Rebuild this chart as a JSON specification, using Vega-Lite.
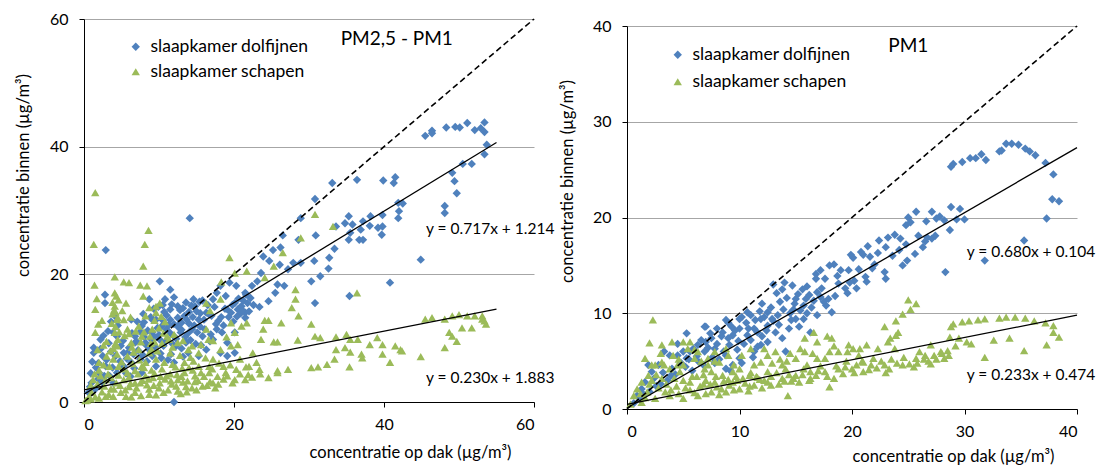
{
"$schema": "https://vega.github.io/schema/vega-lite/v6.json",
"padding": {"left": 15, "top": 11, "right": 0, "bottom": 0},
"spacing": 93,
"bounds": "flush",
"config": {
 "font": "Lato",
 "view": {"stroke": null},
 "axis": {"domainColor": "black", "tickColor": "black", "labelColor": "black", "labelFontSize": 16, "labelFont": "Lato", "titleFont": "Lato", "titleFontSize": 16.5, "titleFontWeight": "normal", "titleColor": "black", "labelPadding": 11, "tickSize": 5},
 "axisX": {"grid": false, "labelPadding": 9},
 "axisY": {"gridColor": "#a6a6a6"},
 "legend": {"labelFontSize": 17.5, "labelFont": "Lato", "labelColor": "black", "padding": 0, "symbolSize": 70, "symbolStrokeWidth": 0}
},
"resolve": {"scale": {"color": "independent", "shape": "independent"}, "legend": {"color": "independent", "shape": "independent"}},
"datasets": {
 "links": [
  {"serie":"slaapkamer dolfijnen","x":45.5,"y":41.7},{"serie":"slaapkamer dolfijnen","x":46.4,"y":42.5},{"serie":"slaapkamer dolfijnen","x":46.4,"y":42.1},{"serie":"slaapkamer dolfijnen","x":48.3,"y":43.0},{"serie":"slaapkamer dolfijnen","x":49.5,"y":43.1},{"serie":"slaapkamer dolfijnen","x":50.1,"y":43.0},{"serie":"slaapkamer dolfijnen","x":51.1,"y":43.7},{"serie":"slaapkamer dolfijnen","x":52.1,"y":42.6},{"serie":"slaapkamer dolfijnen","x":52.9,"y":42.9},{"serie":"slaapkamer dolfijnen","x":53.4,"y":43.8},{"serie":"slaapkamer dolfijnen","x":53.4,"y":42.3},{"serie":"slaapkamer dolfijnen","x":53.7,"y":40.3},{"serie":"slaapkamer dolfijnen","x":53.4,"y":38.8},{"serie":"slaapkamer dolfijnen","x":50.5,"y":37.3},{"serie":"slaapkamer dolfijnen","x":51.7,"y":37.3},{"serie":"slaapkamer dolfijnen","x":49.1,"y":35.9},{"serie":"slaapkamer dolfijnen","x":49.4,"y":34.6},{"serie":"slaapkamer dolfijnen","x":49.7,"y":32.7},{"serie":"slaapkamer dolfijnen","x":48.1,"y":30.7},{"serie":"slaapkamer dolfijnen","x":48.1,"y":29.6},{"serie":"slaapkamer dolfijnen","x":44.9,"y":22.3},{"serie":"slaapkamer dolfijnen","x":40.8,"y":18.7},{"serie":"slaapkamer dolfijnen","x":39.9,"y":34.7},{"serie":"slaapkamer dolfijnen","x":41.5,"y":35.2},{"serie":"slaapkamer dolfijnen","x":41.3,"y":34.3},{"serie":"slaapkamer dolfijnen","x":36.4,"y":34.8},{"serie":"slaapkamer dolfijnen","x":41.9,"y":31.2},{"serie":"slaapkamer dolfijnen","x":42.5,"y":31.1},{"serie":"slaapkamer dolfijnen","x":41.9,"y":28.8},{"serie":"slaapkamer dolfijnen","x":42.0,"y":29.9},{"serie":"slaapkamer dolfijnen","x":39.8,"y":29.3},{"serie":"slaapkamer dolfijnen","x":39.8,"y":27.5},{"serie":"slaapkamer dolfijnen","x":39.2,"y":27.3},{"serie":"slaapkamer dolfijnen","x":39.7,"y":26.2},{"serie":"slaapkamer dolfijnen","x":38.2,"y":29.1},{"serie":"slaapkamer dolfijnen","x":38.1,"y":27.6},{"serie":"slaapkamer dolfijnen","x":37.2,"y":28.3},{"serie":"slaapkamer dolfijnen","x":36.9,"y":27.0},{"serie":"slaapkamer dolfijnen","x":36.7,"y":25.4},{"serie":"slaapkamer dolfijnen","x":37.2,"y":25.4},{"serie":"slaapkamer dolfijnen","x":35.3,"y":29.1},{"serie":"slaapkamer dolfijnen","x":34.8,"y":28.0},{"serie":"slaapkamer dolfijnen","x":35.8,"y":27.8},{"serie":"slaapkamer dolfijnen","x":35.5,"y":26.5},{"serie":"slaapkamer dolfijnen","x":35.3,"y":25.4},{"serie":"slaapkamer dolfijnen","x":33.6,"y":27.5},{"serie":"slaapkamer dolfijnen","x":33.4,"y":24.0},{"serie":"slaapkamer dolfijnen","x":32.7,"y":22.6},{"serie":"slaapkamer dolfijnen","x":33.1,"y":34.3},{"serie":"slaapkamer dolfijnen","x":30.8,"y":31.8},{"serie":"slaapkamer dolfijnen","x":30.9,"y":26.1},{"serie":"slaapkamer dolfijnen","x":30.7,"y":22.1},{"serie":"slaapkamer dolfijnen","x":30.3,"y":18.9},{"serie":"slaapkamer dolfijnen","x":31.5,"y":19.7},{"serie":"slaapkamer dolfijnen","x":32.6,"y":20.9},{"serie":"slaapkamer dolfijnen","x":30.8,"y":15.5},{"serie":"slaapkamer dolfijnen","x":35.4,"y":16.6},{"serie":"slaapkamer dolfijnen","x":28.9,"y":28.8},{"serie":"slaapkamer dolfijnen","x":28.6,"y":25.4},{"serie":"slaapkamer dolfijnen","x":27.9,"y":21.8},{"serie":"slaapkamer dolfijnen","x":28.9,"y":21.8},{"serie":"slaapkamer dolfijnen","x":27.2,"y":20.8},{"serie":"slaapkamer dolfijnen","x":26.5,"y":26.1},{"serie":"slaapkamer dolfijnen","x":26.2,"y":24.2},{"serie":"slaapkamer dolfijnen","x":26.1,"y":21.5},{"serie":"slaapkamer dolfijnen","x":25.8,"y":18.4},{"serie":"slaapkamer dolfijnen","x":26.7,"y":18.2},{"serie":"slaapkamer dolfijnen","x":25.5,"y":17.1},{"serie":"slaapkamer dolfijnen","x":25.2,"y":23.8},{"serie":"slaapkamer dolfijnen","x":24.7,"y":22.1},{"serie":"slaapkamer dolfijnen","x":23.9,"y":22.8},{"serie":"slaapkamer dolfijnen","x":23.6,"y":20.2},{"serie":"slaapkamer dolfijnen","x":23.1,"y":18.9},{"serie":"slaapkamer dolfijnen","x":24.6,"y":15.8},{"serie":"slaapkamer dolfijnen","x":23.4,"y":14.9},{"serie":"slaapkamer dolfijnen","x":22.2,"y":16.3},{"serie":"slaapkamer dolfijnen","x":22.4,"y":18.2},{"serie":"slaapkamer dolfijnen","x":21.5,"y":17.1},{"serie":"slaapkamer dolfijnen","x":21.0,"y":15.0},{"serie":"slaapkamer dolfijnen","x":21.5,"y":14.0},{"serie":"slaapkamer dolfijnen","x":20.5,"y":14.5},{"serie":"slaapkamer dolfijnen","x":20.1,"y":15.5},{"serie":"slaapkamer dolfijnen","x":19.6,"y":14.0},{"serie":"slaapkamer dolfijnen","x":19.1,"y":14.5},{"serie":"slaapkamer dolfijnen","x":20.3,"y":18.2},{"serie":"slaapkamer dolfijnen","x":19.4,"y":18.7},{"serie":"slaapkamer dolfijnen","x":14.1,"y":28.8},{"serie":"slaapkamer dolfijnen","x":2.9,"y":23.8},{"serie":"slaapkamer dolfijnen","x":10.1,"y":18.9},{"serie":"slaapkamer dolfijnen","x":11.5,"y":17.6},{"serie":"slaapkamer dolfijnen","x":2.8,"y":16.8},{"serie":"slaapkamer dolfijnen","x":2.8,"y":15.5},{"serie":"slaapkamer dolfijnen","x":3.2,"y":11.1},{"serie":"slaapkamer dolfijnen","x":1.3,"y":8.5},{"serie":"slaapkamer dolfijnen","x":1.3,"y":7.7},{"serie":"slaapkamer dolfijnen","x":2.5,"y":7.2},{"serie":"slaapkamer dolfijnen","x":12.0,"y":0.0},
  {"serie":"slaapkamer dolfijnen","x":3.9,"y":10.9},{"serie":"slaapkamer dolfijnen","x":4.4,"y":10.3},{"serie":"slaapkamer dolfijnen","x":4.1,"y":13.5},{"serie":"slaapkamer dolfijnen","x":4.9,"y":8.8},{"serie":"slaapkamer dolfijnen","x":5.8,"y":7.7},{"serie":"slaapkamer dolfijnen","x":6.8,"y":10.3},{"serie":"slaapkamer dolfijnen","x":7.7,"y":11.9},{"serie":"slaapkamer dolfijnen","x":8.2,"y":9.3},{"serie":"slaapkamer dolfijnen","x":8.7,"y":8.2},{"serie":"slaapkamer dolfijnen","x":9.1,"y":10.9},{"serie":"slaapkamer dolfijnen","x":9.6,"y":12.9},{"serie":"slaapkamer dolfijnen","x":10.1,"y":9.8},{"serie":"slaapkamer dolfijnen","x":10.6,"y":8.8},{"serie":"slaapkamer dolfijnen","x":11.0,"y":11.4},{"serie":"slaapkamer dolfijnen","x":11.5,"y":12.9},{"serie":"slaapkamer dolfijnen","x":12.0,"y":10.3},{"serie":"slaapkamer dolfijnen","x":12.5,"y":11.9},{"serie":"slaapkamer dolfijnen","x":12.9,"y":10.9},{"serie":"slaapkamer dolfijnen","x":13.4,"y":13.5},{"serie":"slaapkamer dolfijnen","x":13.6,"y":9.3},{"serie":"slaapkamer dolfijnen","x":14.4,"y":11.4},{"serie":"slaapkamer dolfijnen","x":14.8,"y":15.0},{"serie":"slaapkamer dolfijnen","x":15.3,"y":12.9},{"serie":"slaapkamer dolfijnen","x":14.6,"y":16.1},{"serie":"slaapkamer dolfijnen","x":15.8,"y":10.3},{"serie":"slaapkamer dolfijnen","x":16.3,"y":8.2},{"serie":"slaapkamer dolfijnen","x":17.2,"y":9.8},{"serie":"slaapkamer dolfijnen","x":17.7,"y":11.4},{"serie":"slaapkamer dolfijnen","x":18.2,"y":7.7},{"serie":"slaapkamer dolfijnen","x":18.4,"y":10.9},{"serie":"slaapkamer dolfijnen","x":19.1,"y":9.3},{"serie":"slaapkamer dolfijnen","x":20.1,"y":10.9},{"serie":"slaapkamer dolfijnen","x":20.1,"y":7.7},{"serie":"slaapkamer dolfijnen","x":16.3,"y":14.0},{"serie":"slaapkamer dolfijnen","x":17.2,"y":16.1},{"serie":"slaapkamer dolfijnen","x":17.7,"y":17.1},{"serie":"slaapkamer dolfijnen","x":18.2,"y":18.2},{"serie":"slaapkamer dolfijnen","x":12.5,"y":15.0},{"serie":"slaapkamer dolfijnen","x":11.5,"y":14.5},{"serie":"slaapkamer dolfijnen","x":10.8,"y":16.1},{"serie":"slaapkamer dolfijnen","x":9.1,"y":7.2},{"serie":"slaapkamer dolfijnen","x":7.5,"y":6.7},{"serie":"slaapkamer dolfijnen","x":6.3,"y":6.2},{"serie":"slaapkamer dolfijnen","x":5.3,"y":5.6},{"serie":"slaapkamer dolfijnen","x":2.9,"y":5.6},{"serie":"slaapkamer dolfijnen","x":2.0,"y":4.6},{"serie":"slaapkamer dolfijnen","x":1.0,"y":3.0},{"serie":"slaapkamer dolfijnen","x":0.6,"y":1.5},{"serie":"slaapkamer dolfijnen","x":1.5,"y":2.0},{"serie":"slaapkamer dolfijnen","x":2.5,"y":3.0},{"serie":"slaapkamer dolfijnen","x":3.4,"y":4.1},{"serie":"slaapkamer dolfijnen","x":4.4,"y":4.6},{"serie":"slaapkamer dolfijnen","x":15.3,"y":7.2},{"serie":"slaapkamer dolfijnen","x":19.1,"y":7.2},{"serie":"slaapkamer dolfijnen","x":22.0,"y":14.2},{"serie":"slaapkamer dolfijnen","x":21.5,"y":13.2},{"serie":"slaapkamer dolfijnen","x":8.7,"y":16.1},{"serie":"slaapkamer dolfijnen","x":9.1,"y":12.9},{"serie":"slaapkamer dolfijnen","x":6.3,"y":12.9},{"serie":"slaapkamer dolfijnen","x":6.8,"y":9.3},{"serie":"slaapkamer dolfijnen","x":9.6,"y":5.6},{"serie":"slaapkamer dolfijnen","x":12.0,"y":6.2},{"serie":"slaapkamer dolfijnen","x":13.9,"y":7.7},{"serie":"slaapkamer dolfijnen","x":7.7,"y":4.6},{"serie":"slaapkamer dolfijnen","x":5.3,"y":7.7},{"serie":"slaapkamer dolfijnen","x":10.4,"y":11.9},{"serie":"slaapkamer dolfijnen","x":11.8,"y":9.1},{"serie":"slaapkamer dolfijnen","x":13.0,"y":12.4},{"serie":"slaapkamer dolfijnen","x":14.0,"y":14.1},{"serie":"slaapkamer dolfijnen","x":7.2,"y":8.1},{"serie":"slaapkamer dolfijnen","x":8.0,"y":10.2},{"serie":"slaapkamer dolfijnen","x":20.8,"y":14.8},{"serie":"slaapkamer dolfijnen","x":21.2,"y":15.9},
  {"serie":"slaapkamer dolfijnen","x":6.0,"y":8.5},{"serie":"slaapkamer dolfijnen","x":7.0,"y":9.5},{"serie":"slaapkamer dolfijnen","x":7.5,"y":11.0},{"serie":"slaapkamer dolfijnen","x":8.0,"y":12.5},{"serie":"slaapkamer dolfijnen","x":8.5,"y":11.2},{"serie":"slaapkamer dolfijnen","x":9.0,"y":9.8},{"serie":"slaapkamer dolfijnen","x":9.5,"y":8.6},{"serie":"slaapkamer dolfijnen","x":10.0,"y":10.5},{"serie":"slaapkamer dolfijnen","x":10.5,"y":12.8},{"serie":"slaapkamer dolfijnen","x":11.0,"y":13.6},{"serie":"slaapkamer dolfijnen","x":11.5,"y":10.8},{"serie":"slaapkamer dolfijnen","x":12.0,"y":12.2},{"serie":"slaapkamer dolfijnen","x":12.5,"y":13.2},{"serie":"slaapkamer dolfijnen","x":13.0,"y":11.3},{"serie":"slaapkamer dolfijnen","x":13.5,"y":10.2},{"serie":"slaapkamer dolfijnen","x":14.0,"y":12.3},{"serie":"slaapkamer dolfijnen","x":14.5,"y":13.3},{"serie":"slaapkamer dolfijnen","x":15.0,"y":14.2},{"serie":"slaapkamer dolfijnen","x":15.5,"y":11.8},{"serie":"slaapkamer dolfijnen","x":16.0,"y":12.9},{"serie":"slaapkamer dolfijnen","x":16.5,"y":15.2},{"serie":"slaapkamer dolfijnen","x":17.0,"y":13.5},{"serie":"slaapkamer dolfijnen","x":12.2,"y":8.7},{"serie":"slaapkamer dolfijnen","x":13.2,"y":7.1},{"serie":"slaapkamer dolfijnen","x":11.2,"y":6.6},{"serie":"slaapkamer dolfijnen","x":10.2,"y":7.6},{"serie":"slaapkamer dolfijnen","x":8.4,"y":6.4},{"serie":"slaapkamer dolfijnen","x":6.7,"y":5.3},{"serie":"slaapkamer dolfijnen","x":5.6,"y":4.5},{"serie":"slaapkamer dolfijnen","x":4.8,"y":6.4},{"serie":"slaapkamer dolfijnen","x":3.6,"y":7.9},{"serie":"slaapkamer dolfijnen","x":3.3,"y":9.2},{"serie":"slaapkamer dolfijnen","x":2.2,"y":9.8},{"serie":"slaapkamer dolfijnen","x":1.9,"y":6.1},{"serie":"slaapkamer dolfijnen","x":0.9,"y":4.5},{"serie":"slaapkamer dolfijnen","x":3.9,"y":3.0},{"serie":"slaapkamer dolfijnen","x":6.2,"y":4.0},{"serie":"slaapkamer dolfijnen","x":9.3,"y":14.6},{"serie":"slaapkamer dolfijnen","x":10.7,"y":14.1},{"serie":"slaapkamer dolfijnen","x":12.8,"y":14.4},{"serie":"slaapkamer dolfijnen","x":13.6,"y":15.6},{"serie":"slaapkamer dolfijnen","x":15.8,"y":15.9},{"serie":"slaapkamer dolfijnen","x":19.8,"y":15.2},{"serie":"slaapkamer dolfijnen","x":20.6,"y":16.2},{"serie":"slaapkamer dolfijnen","x":21.8,"y":15.5},{"serie":"slaapkamer dolfijnen","x":20.9,"y":13.9},{"serie":"slaapkamer dolfijnen","x":18.9,"y":16.6},{"serie":"slaapkamer dolfijnen","x":17.9,"y":12.7},{"serie":"slaapkamer dolfijnen","x":18.6,"y":12.0},{"serie":"slaapkamer dolfijnen","x":16.9,"y":10.6},{"serie":"slaapkamer dolfijnen","x":14.9,"y":9.1},{"serie":"slaapkamer dolfijnen","x":15.6,"y":8.9},{"serie":"slaapkamer dolfijnen","x":13.9,"y":10.8},{"serie":"slaapkamer dolfijnen","x":9.8,"y":11.6},{"serie":"slaapkamer dolfijnen","x":7.9,"y":13.8},{"serie":"slaapkamer dolfijnen","x":4.5,"y":12.0},{"serie":"slaapkamer dolfijnen","x":3.6,"y":12.6},{"serie":"slaapkamer dolfijnen","x":2.6,"y":10.4},
  {"serie":"slaapkamer dolfijnen","x":6.4,"y":10.8},{"serie":"slaapkamer dolfijnen","x":7.1,"y":12.6},{"serie":"slaapkamer dolfijnen","x":7.8,"y":7.4},{"serie":"slaapkamer dolfijnen","x":8.3,"y":8.9},{"serie":"slaapkamer dolfijnen","x":8.9,"y":13.3},{"serie":"slaapkamer dolfijnen","x":9.4,"y":10.2},{"serie":"slaapkamer dolfijnen","x":9.9,"y":14.9},{"serie":"slaapkamer dolfijnen","x":10.3,"y":6.9},{"serie":"slaapkamer dolfijnen","x":10.9,"y":9.5},{"serie":"slaapkamer dolfijnen","x":11.3,"y":12.1},{"serie":"slaapkamer dolfijnen","x":11.7,"y":15.3},{"serie":"slaapkamer dolfijnen","x":12.3,"y":9.9},{"serie":"slaapkamer dolfijnen","x":12.7,"y":11.6},{"serie":"slaapkamer dolfijnen","x":13.2,"y":14.7},{"serie":"slaapkamer dolfijnen","x":13.7,"y":12.9},{"serie":"slaapkamer dolfijnen","x":14.2,"y":9.7},{"serie":"slaapkamer dolfijnen","x":14.7,"y":12.0},{"serie":"slaapkamer dolfijnen","x":15.1,"y":10.9},{"serie":"slaapkamer dolfijnen","x":15.5,"y":13.9},{"serie":"slaapkamer dolfijnen","x":16.1,"y":11.4},{"serie":"slaapkamer dolfijnen","x":16.6,"y":13.8},{"serie":"slaapkamer dolfijnen","x":17.4,"y":14.9},{"serie":"slaapkamer dolfijnen","x":17.6,"y":12.2},{"serie":"slaapkamer dolfijnen","x":18.3,"y":13.3},{"serie":"slaapkamer dolfijnen","x":18.8,"y":14.6},{"serie":"slaapkamer dolfijnen","x":19.3,"y":13.3},{"serie":"slaapkamer dolfijnen","x":19.9,"y":12.6},{"serie":"slaapkamer dolfijnen","x":20.4,"y":13.4},{"serie":"slaapkamer dolfijnen","x":21.1,"y":14.4},{"serie":"slaapkamer dolfijnen","x":21.6,"y":16.8},{"serie":"slaapkamer dolfijnen","x":22.6,"y":15.2},{"serie":"slaapkamer dolfijnen","x":5.2,"y":9.6},{"serie":"slaapkamer dolfijnen","x":5.7,"y":6.8},{"serie":"slaapkamer dolfijnen","x":6.6,"y":7.5},{"serie":"slaapkamer dolfijnen","x":4.2,"y":7.2},{"serie":"slaapkamer dolfijnen","x":3.8,"y":5.4},{"serie":"slaapkamer dolfijnen","x":3.0,"y":6.6},{"serie":"slaapkamer dolfijnen","x":2.2,"y":8.3},{"serie":"slaapkamer dolfijnen","x":1.6,"y":5.4},{"serie":"slaapkamer dolfijnen","x":1.1,"y":6.3},{"serie":"slaapkamer dolfijnen","x":0.8,"y":2.4},{"serie":"slaapkamer dolfijnen","x":1.9,"y":3.6},{"serie":"slaapkamer dolfijnen","x":2.7,"y":4.1},{"serie":"slaapkamer dolfijnen","x":10.5,"y":15.2},{"serie":"slaapkamer dolfijnen","x":12.0,"y":16.4},{"serie":"slaapkamer dolfijnen","x":14.3,"y":15.1},{"serie":"slaapkamer dolfijnen","x":15.4,"y":15.7},{"serie":"slaapkamer dolfijnen","x":13.0,"y":8.4},{"serie":"slaapkamer dolfijnen","x":11.6,"y":7.5},{"serie":"slaapkamer dolfijnen","x":16.8,"y":9.5},

  {"serie":"slaapkamer schapen","x":1.5,"y":32.8},{"serie":"slaapkamer schapen","x":1.3,"y":24.7},{"serie":"slaapkamer schapen","x":8.6,"y":26.9},{"serie":"slaapkamer schapen","x":8.1,"y":24.7},{"serie":"slaapkamer schapen","x":7.9,"y":21.3},{"serie":"slaapkamer schapen","x":4.1,"y":19.6},{"serie":"slaapkamer schapen","x":1.4,"y":18.3},{"serie":"slaapkamer schapen","x":5.3,"y":18.8},{"serie":"slaapkamer schapen","x":6.0,"y":18.7},{"serie":"slaapkamer schapen","x":7.5,"y":18.3},{"serie":"slaapkamer schapen","x":8.4,"y":18.2},{"serie":"slaapkamer schapen","x":19.4,"y":22.6},{"serie":"slaapkamer schapen","x":20.1,"y":20.2},{"serie":"slaapkamer schapen","x":21.7,"y":20.5},{"serie":"slaapkamer schapen","x":30.8,"y":29.4},{"serie":"slaapkamer schapen","x":33.2,"y":27.5},{"serie":"slaapkamer schapen","x":28.9,"y":25.7},{"serie":"slaapkamer schapen","x":26.5,"y":23.4},{"serie":"slaapkamer schapen","x":25.3,"y":21.3},{"serie":"slaapkamer schapen","x":24.1,"y":19.5},{"serie":"slaapkamer schapen","x":18.3,"y":18.8},{"serie":"slaapkamer schapen","x":36.4,"y":17.1},{"serie":"slaapkamer schapen","x":28.2,"y":17.6},{"serie":"slaapkamer schapen","x":28.2,"y":16.1},{"serie":"slaapkamer schapen","x":27.7,"y":14.8},{"serie":"slaapkamer schapen","x":28.6,"y":13.5},{"serie":"slaapkamer schapen","x":26.3,"y":12.4},{"serie":"slaapkamer schapen","x":24.1,"y":12.8},{"serie":"slaapkamer schapen","x":24.6,"y":12.8},{"serie":"slaapkamer schapen","x":23.9,"y":11.4},{"serie":"slaapkamer schapen","x":23.6,"y":9.8},{"serie":"slaapkamer schapen","x":25.3,"y":9.4},{"serie":"slaapkamer schapen","x":25.8,"y":9.4},{"serie":"slaapkamer schapen","x":28.5,"y":9.7},{"serie":"slaapkamer schapen","x":30.3,"y":12.2},{"serie":"slaapkamer schapen","x":30.8,"y":10.3},{"serie":"slaapkamer schapen","x":31.5,"y":10.1},{"serie":"slaapkamer schapen","x":33.6,"y":10.2},{"serie":"slaapkamer schapen","x":35.0,"y":10.6},{"serie":"slaapkamer schapen","x":35.5,"y":9.8},{"serie":"slaapkamer schapen","x":36.5,"y":9.8},{"serie":"slaapkamer schapen","x":38.1,"y":9.0},{"serie":"slaapkamer schapen","x":39.1,"y":10.1},{"serie":"slaapkamer schapen","x":39.8,"y":9.0},{"serie":"slaapkamer schapen","x":41.5,"y":8.8},{"serie":"slaapkamer schapen","x":42.2,"y":8.2},{"serie":"slaapkamer schapen","x":42.4,"y":8.0},{"serie":"slaapkamer schapen","x":40.8,"y":6.2},{"serie":"slaapkamer schapen","x":39.8,"y":7.5},{"serie":"slaapkamer schapen","x":37.0,"y":7.5},{"serie":"slaapkamer schapen","x":37.1,"y":6.9},{"serie":"slaapkamer schapen","x":35.5,"y":7.8},{"serie":"slaapkamer schapen","x":34.8,"y":8.5},{"serie":"slaapkamer schapen","x":33.6,"y":8.2},{"serie":"slaapkamer schapen","x":33.4,"y":6.7},{"serie":"slaapkamer schapen","x":35.4,"y":5.5},{"serie":"slaapkamer schapen","x":32.4,"y":5.9},{"serie":"slaapkamer schapen","x":31.2,"y":5.5},{"serie":"slaapkamer schapen","x":30.3,"y":5.4},{"serie":"slaapkamer schapen","x":27.2,"y":5.1},{"serie":"slaapkamer schapen","x":25.8,"y":4.9},{"serie":"slaapkamer schapen","x":25.8,"y":4.6},{"serie":"slaapkamer schapen","x":24.6,"y":3.8},{"serie":"slaapkamer schapen","x":23.4,"y":5.1},{"serie":"slaapkamer schapen","x":21.9,"y":4.3},{"serie":"slaapkamer schapen","x":21.5,"y":3.5},{"serie":"slaapkamer schapen","x":20.3,"y":5.1},{"serie":"slaapkamer schapen","x":19.1,"y":4.1},{"serie":"slaapkamer schapen","x":17.5,"y":2.2},{"serie":"slaapkamer schapen","x":44.9,"y":7.1},{"serie":"slaapkamer schapen","x":45.5,"y":13.0},{"serie":"slaapkamer schapen","x":46.4,"y":13.2},{"serie":"slaapkamer schapen","x":48.1,"y":13.0},{"serie":"slaapkamer schapen","x":48.1,"y":8.5},{"serie":"slaapkamer schapen","x":48.7,"y":10.9},{"serie":"slaapkamer schapen","x":49.1,"y":10.3},{"serie":"slaapkamer schapen","x":49.7,"y":9.5},{"serie":"slaapkamer schapen","x":50.0,"y":13.7},{"serie":"slaapkamer schapen","x":50.4,"y":11.6},{"serie":"slaapkamer schapen","x":51.7,"y":11.6},{"serie":"slaapkamer schapen","x":52.1,"y":13.5},{"serie":"slaapkamer schapen","x":53.1,"y":13.5},{"serie":"slaapkamer schapen","x":53.4,"y":12.7},{"serie":"slaapkamer schapen","x":53.6,"y":12.2},{"serie":"slaapkamer schapen","x":53.1,"y":13.0},{"serie":"slaapkamer schapen","x":51.1,"y":13.5},{"serie":"slaapkamer schapen","x":49.1,"y":13.5},
  {"serie":"slaapkamer schapen","x":4.1,"y":17.1},{"serie":"slaapkamer schapen","x":4.1,"y":15.0},{"serie":"slaapkamer schapen","x":4.4,"y":12.9},{"serie":"slaapkamer schapen","x":4.1,"y":10.9},{"serie":"slaapkamer schapen","x":4.4,"y":8.8},{"serie":"slaapkamer schapen","x":3.9,"y":6.7},{"serie":"slaapkamer schapen","x":4.6,"y":5.6},{"serie":"slaapkamer schapen","x":1.5,"y":14.5},{"serie":"slaapkamer schapen","x":1.5,"y":10.9},{"serie":"slaapkamer schapen","x":1.8,"y":8.2},{"serie":"slaapkamer schapen","x":2.0,"y":6.2},{"serie":"slaapkamer schapen","x":2.2,"y":4.1},{"serie":"slaapkamer schapen","x":2.7,"y":2.5},{"serie":"slaapkamer schapen","x":1.0,"y":1.5},{"serie":"slaapkamer schapen","x":0.6,"y":0.7},{"serie":"slaapkamer schapen","x":2.9,"y":0.9},{"serie":"slaapkamer schapen","x":4.9,"y":1.5},{"serie":"slaapkamer schapen","x":6.8,"y":1.5},{"serie":"slaapkamer schapen","x":8.7,"y":1.2},{"serie":"slaapkamer schapen","x":10.6,"y":1.5},{"serie":"slaapkamer schapen","x":12.5,"y":1.7},{"serie":"slaapkamer schapen","x":14.4,"y":2.2},{"serie":"slaapkamer schapen","x":15.8,"y":2.5},{"serie":"slaapkamer schapen","x":17.2,"y":3.0},{"serie":"slaapkamer schapen","x":8.7,"y":2.0},{"serie":"slaapkamer schapen","x":6.8,"y":3.0},{"serie":"slaapkamer schapen","x":5.3,"y":3.5},{"serie":"slaapkamer schapen","x":10.1,"y":3.0},{"serie":"slaapkamer schapen","x":12.5,"y":3.5},{"serie":"slaapkamer schapen","x":14.8,"y":4.1},{"serie":"slaapkamer schapen","x":16.7,"y":4.6},{"serie":"slaapkamer schapen","x":5.8,"y":4.6},{"serie":"slaapkamer schapen","x":7.7,"y":5.6},{"serie":"slaapkamer schapen","x":9.6,"y":6.7},{"serie":"slaapkamer schapen","x":11.5,"y":7.7},{"serie":"slaapkamer schapen","x":8.7,"y":7.7},{"serie":"slaapkamer schapen","x":7.3,"y":8.2},{"serie":"slaapkamer schapen","x":6.3,"y":9.3},{"serie":"slaapkamer schapen","x":7.7,"y":10.3},{"serie":"slaapkamer schapen","x":9.1,"y":11.4},{"serie":"slaapkamer schapen","x":9.6,"y":14.0},{"serie":"slaapkamer schapen","x":10.1,"y":15.5},{"serie":"slaapkamer schapen","x":9.6,"y":15.0},{"serie":"slaapkamer schapen","x":8.2,"y":13.5},{"serie":"slaapkamer schapen","x":7.3,"y":11.9},{"serie":"slaapkamer schapen","x":5.8,"y":11.4},{"serie":"slaapkamer schapen","x":5.3,"y":12.9},{"serie":"slaapkamer schapen","x":5.6,"y":15.5},{"serie":"slaapkamer schapen","x":7.9,"y":16.6},{"serie":"slaapkamer schapen","x":11.1,"y":10.3},{"serie":"slaapkamer schapen","x":12.5,"y":9.3},{"serie":"slaapkamer schapen","x":13.9,"y":8.2},{"serie":"slaapkamer schapen","x":15.3,"y":7.7},{"serie":"slaapkamer schapen","x":13.4,"y":6.2},{"serie":"slaapkamer schapen","x":15.3,"y":5.6},{"serie":"slaapkamer schapen","x":17.2,"y":6.7},{"serie":"slaapkamer schapen","x":18.2,"y":8.2},{"serie":"slaapkamer schapen","x":19.6,"y":8.8},{"serie":"slaapkamer schapen","x":20.1,"y":10.9},{"serie":"slaapkamer schapen","x":21.7,"y":12.4},{"serie":"slaapkamer schapen","x":21.0,"y":11.9},{"serie":"slaapkamer schapen","x":19.6,"y":12.4},{"serie":"slaapkamer schapen","x":17.2,"y":9.6},{"serie":"slaapkamer schapen","x":16.3,"y":11.4},{"serie":"slaapkamer schapen","x":16.7,"y":5.6},{"serie":"slaapkamer schapen","x":18.6,"y":5.6},{"serie":"slaapkamer schapen","x":20.1,"y":3.5},{"serie":"slaapkamer schapen","x":22.0,"y":5.6},{"serie":"slaapkamer schapen","x":11.0,"y":4.1},{"serie":"slaapkamer schapen","x":13.4,"y":4.6},{"serie":"slaapkamer schapen","x":8.2,"y":4.1},{"serie":"slaapkamer schapen","x":2.9,"y":3.5},{"serie":"slaapkamer schapen","x":3.4,"y":5.6},{"serie":"slaapkamer schapen","x":16.3,"y":15.5},{"serie":"slaapkamer schapen","x":18.2,"y":16.1},{"serie":"slaapkamer schapen","x":16.8,"y":14.3},{"serie":"slaapkamer schapen","x":3.6,"y":2.1},{"serie":"slaapkamer schapen","x":6.0,"y":2.4},{"serie":"slaapkamer schapen","x":9.3,"y":2.6},{"serie":"slaapkamer schapen","x":11.7,"y":2.8},{"serie":"slaapkamer schapen","x":13.2,"y":3.1},{"serie":"slaapkamer schapen","x":4.3,"y":3.0},{"serie":"slaapkamer schapen","x":6.5,"y":6.0},{"serie":"slaapkamer schapen","x":10.4,"y":5.2},{"serie":"slaapkamer schapen","x":12.2,"y":5.5},{"serie":"slaapkamer schapen","x":14.6,"y":6.4},{"serie":"slaapkamer schapen","x":3.0,"y":9.5},{"serie":"slaapkamer schapen","x":4.2,"y":14.1},{"serie":"slaapkamer schapen","x":1.9,"y":12.2},{"serie":"slaapkamer schapen","x":8.9,"y":9.2},
  {"serie":"slaapkamer schapen","x":1.2,"y":3.5},{"serie":"slaapkamer schapen","x":1.8,"y":2.8},{"serie":"slaapkamer schapen","x":2.4,"y":1.6},{"serie":"slaapkamer schapen","x":3.3,"y":1.2},{"serie":"slaapkamer schapen","x":4.0,"y":2.0},{"serie":"slaapkamer schapen","x":4.8,"y":2.6},{"serie":"slaapkamer schapen","x":5.5,"y":1.9},{"serie":"slaapkamer schapen","x":6.2,"y":2.9},{"serie":"slaapkamer schapen","x":7.0,"y":2.2},{"serie":"slaapkamer schapen","x":7.8,"y":3.4},{"serie":"slaapkamer schapen","x":8.4,"y":2.7},{"serie":"slaapkamer schapen","x":9.2,"y":3.8},{"serie":"slaapkamer schapen","x":10.0,"y":2.2},{"serie":"slaapkamer schapen","x":10.8,"y":3.6},{"serie":"slaapkamer schapen","x":11.5,"y":4.4},{"serie":"slaapkamer schapen","x":12.3,"y":2.5},{"serie":"slaapkamer schapen","x":13.0,"y":4.0},{"serie":"slaapkamer schapen","x":13.8,"y":3.3},{"serie":"slaapkamer schapen","x":14.5,"y":5.0},{"serie":"slaapkamer schapen","x":15.2,"y":3.4},{"serie":"slaapkamer schapen","x":16.0,"y":4.0},{"serie":"slaapkamer schapen","x":16.8,"y":3.2},{"serie":"slaapkamer schapen","x":17.8,"y":4.0},{"serie":"slaapkamer schapen","x":18.6,"y":3.6},{"serie":"slaapkamer schapen","x":19.5,"y":5.8},{"serie":"slaapkamer schapen","x":3.5,"y":8.0},{"serie":"slaapkamer schapen","x":4.5,"y":9.8},{"serie":"slaapkamer schapen","x":4.2,"y":11.8},{"serie":"slaapkamer schapen","x":3.8,"y":13.8},{"serie":"slaapkamer schapen","x":4.6,"y":16.0},{"serie":"slaapkamer schapen","x":4.4,"y":7.5},{"serie":"slaapkamer schapen","x":5.0,"y":6.3},{"serie":"slaapkamer schapen","x":5.8,"y":7.2},{"serie":"slaapkamer schapen","x":6.6,"y":7.8},{"serie":"slaapkamer schapen","x":7.4,"y":6.6},{"serie":"slaapkamer schapen","x":8.2,"y":6.2},{"serie":"slaapkamer schapen","x":9.0,"y":8.3},{"serie":"slaapkamer schapen","x":9.8,"y":8.0},{"serie":"slaapkamer schapen","x":10.4,"y":9.2},{"serie":"slaapkamer schapen","x":11.8,"y":8.6},{"serie":"slaapkamer schapen","x":12.8,"y":7.3},{"serie":"slaapkamer schapen","x":14.2,"y":7.0},{"serie":"slaapkamer schapen","x":10.8,"y":12.6},{"serie":"slaapkamer schapen","x":9.4,"y":12.8},{"serie":"slaapkamer schapen","x":8.7,"y":14.8},{"serie":"slaapkamer schapen","x":10.3,"y":13.4},{"serie":"slaapkamer schapen","x":6.2,"y":13.3},{"serie":"slaapkamer schapen","x":2.4,"y":12.8},{"serie":"slaapkamer schapen","x":1.7,"y":16.2},{"serie":"slaapkamer schapen","x":2.6,"y":8.9},{"serie":"slaapkamer schapen","x":3.0,"y":7.2},{"serie":"slaapkamer schapen","x":7.2,"y":4.4},{"serie":"slaapkamer schapen","x":9.0,"y":5.0},{"serie":"slaapkamer schapen","x":11.8,"y":5.9},{"serie":"slaapkamer schapen","x":14.0,"y":5.4},{"serie":"slaapkamer schapen","x":16.2,"y":6.9},{"serie":"slaapkamer schapen","x":18.0,"y":6.1},{"serie":"slaapkamer schapen","x":20.8,"y":6.7},{"serie":"slaapkamer schapen","x":22.5,"y":7.7},{"serie":"slaapkamer schapen","x":23.0,"y":6.2},{"serie":"slaapkamer schapen","x":20.5,"y":9.0},{"serie":"slaapkamer schapen","x":19.0,"y":10.2},{"serie":"slaapkamer schapen","x":16.6,"y":9.8},{"serie":"slaapkamer schapen","x":0.4,"y":0.3},{"serie":"slaapkamer schapen","x":1.5,"y":0.8},{"serie":"slaapkamer schapen","x":5.6,"y":0.9},{"serie":"slaapkamer schapen","x":7.6,"y":1.0},{"serie":"slaapkamer schapen","x":11.2,"y":1.9},{"serie":"slaapkamer schapen","x":13.7,"y":1.6},{"serie":"slaapkamer schapen","x":15.0,"y":1.9},
  {"serie":"slaapkamer schapen","x":3.8,"y":15.6},{"serie":"slaapkamer schapen","x":4.3,"y":16.6},{"serie":"slaapkamer schapen","x":4.0,"y":14.4},{"serie":"slaapkamer schapen","x":4.5,"y":13.2},{"serie":"slaapkamer schapen","x":3.7,"y":12.3},{"serie":"slaapkamer schapen","x":4.2,"y":9.2},{"serie":"slaapkamer schapen","x":3.9,"y":8.4},{"serie":"slaapkamer schapen","x":4.7,"y":11.0},{"serie":"slaapkamer schapen","x":5.1,"y":14.3},{"serie":"slaapkamer schapen","x":5.4,"y":10.4},{"serie":"slaapkamer schapen","x":6.0,"y":10.7},{"serie":"slaapkamer schapen","x":6.4,"y":8.6},{"serie":"slaapkamer schapen","x":6.9,"y":11.1},{"serie":"slaapkamer schapen","x":7.6,"y":9.4},{"serie":"slaapkamer schapen","x":8.0,"y":11.0},{"serie":"slaapkamer schapen","x":8.8,"y":10.3},{"serie":"slaapkamer schapen","x":9.4,"y":9.4},{"serie":"slaapkamer schapen","x":10.0,"y":11.6},{"serie":"slaapkamer schapen","x":10.6,"y":10.8},{"serie":"slaapkamer schapen","x":11.3,"y":9.8},{"serie":"slaapkamer schapen","x":12.0,"y":10.6},{"serie":"slaapkamer schapen","x":13.2,"y":9.6},{"serie":"slaapkamer schapen","x":14.4,"y":8.8},{"serie":"slaapkamer schapen","x":15.6,"y":9.0},{"serie":"slaapkamer schapen","x":0.9,"y":2.6},{"serie":"slaapkamer schapen","x":1.4,"y":4.4},{"serie":"slaapkamer schapen","x":2.0,"y":5.0},{"serie":"slaapkamer schapen","x":2.6,"y":5.8},{"serie":"slaapkamer schapen","x":3.2,"y":4.4},{"serie":"slaapkamer schapen","x":3.6,"y":3.8},{"serie":"slaapkamer schapen","x":4.6,"y":4.2},{"serie":"slaapkamer schapen","x":5.3,"y":5.2},{"serie":"slaapkamer schapen","x":6.0,"y":3.9},{"serie":"slaapkamer schapen","x":6.8,"y":4.9},{"serie":"slaapkamer schapen","x":7.5,"y":3.0},{"serie":"slaapkamer schapen","x":8.0,"y":5.4},{"serie":"slaapkamer schapen","x":8.6,"y":3.6},{"serie":"slaapkamer schapen","x":9.4,"y":4.5},{"serie":"slaapkamer schapen","x":10.2,"y":4.0},{"serie":"slaapkamer schapen","x":10.7,"y":6.2},{"serie":"slaapkamer schapen","x":11.6,"y":3.3},{"serie":"slaapkamer schapen","x":12.4,"y":4.3},{"serie":"slaapkamer schapen","x":13.1,"y":5.3},{"serie":"slaapkamer schapen","x":13.6,"y":2.4},{"serie":"slaapkamer schapen","x":14.8,"y":3.2},{"serie":"slaapkamer schapen","x":15.6,"y":4.6},{"serie":"slaapkamer schapen","x":16.4,"y":2.6},{"serie":"slaapkamer schapen","x":17.1,"y":5.2},{"serie":"slaapkamer schapen","x":17.9,"y":2.8},{"serie":"slaapkamer schapen","x":18.9,"y":4.6},{"serie":"slaapkamer schapen","x":19.8,"y":3.0},{"serie":"slaapkamer schapen","x":20.8,"y":4.4},{"serie":"slaapkamer schapen","x":21.6,"y":5.5},{"serie":"slaapkamer schapen","x":22.4,"y":3.9},{"serie":"slaapkamer schapen","x":23.5,"y":4.4},{"serie":"slaapkamer schapen","x":0.2,"y":0.2},{"serie":"slaapkamer schapen","x":0.9,"y":0.5},{"serie":"slaapkamer schapen","x":2.0,"y":0.6},{"serie":"slaapkamer schapen","x":3.9,"y":0.9},{"serie":"slaapkamer schapen","x":6.3,"y":0.8},{"serie":"slaapkamer schapen","x":9.6,"y":1.1},{"serie":"slaapkamer schapen","x":12.9,"y":1.3}
 ],
 "rechts": [
  {"serie":"slaapkamer dolfijnen","x":28.8,"y":25.3},{"serie":"slaapkamer dolfijnen","x":29.0,"y":25.6},{"serie":"slaapkamer dolfijnen","x":29.8,"y":25.8},{"serie":"slaapkamer dolfijnen","x":30.5,"y":26.2},{"serie":"slaapkamer dolfijnen","x":31.0,"y":26.2},{"serie":"slaapkamer dolfijnen","x":31.5,"y":26.6},{"serie":"slaapkamer dolfijnen","x":31.9,"y":26.0},{"serie":"slaapkamer dolfijnen","x":33.1,"y":26.9},{"serie":"slaapkamer dolfijnen","x":33.3,"y":27.0},{"serie":"slaapkamer dolfijnen","x":33.7,"y":27.7},{"serie":"slaapkamer dolfijnen","x":34.2,"y":27.7},{"serie":"slaapkamer dolfijnen","x":34.8,"y":27.6},{"serie":"slaapkamer dolfijnen","x":35.4,"y":27.2},{"serie":"slaapkamer dolfijnen","x":35.8,"y":26.9},{"serie":"slaapkamer dolfijnen","x":36.3,"y":26.5},{"serie":"slaapkamer dolfijnen","x":37.2,"y":25.7},{"serie":"slaapkamer dolfijnen","x":37.9,"y":24.5},{"serie":"slaapkamer dolfijnen","x":37.8,"y":21.9},{"serie":"slaapkamer dolfijnen","x":38.4,"y":21.7},{"serie":"slaapkamer dolfijnen","x":37.3,"y":19.9},{"serie":"slaapkamer dolfijnen","x":35.3,"y":17.6},{"serie":"slaapkamer dolfijnen","x":31.8,"y":15.5},{"serie":"slaapkamer dolfijnen","x":28.3,"y":14.3},{"serie":"slaapkamer dolfijnen","x":28.8,"y":21.1},{"serie":"slaapkamer dolfijnen","x":29.6,"y":20.9},{"serie":"slaapkamer dolfijnen","x":30.0,"y":19.8},{"serie":"slaapkamer dolfijnen","x":29.3,"y":19.8},{"serie":"slaapkamer dolfijnen","x":28.7,"y":18.7},{"serie":"slaapkamer dolfijnen","x":27.8,"y":20.1},{"serie":"slaapkamer dolfijnen","x":28.2,"y":19.7},{"serie":"slaapkamer dolfijnen","x":27.5,"y":19.9},{"serie":"slaapkamer dolfijnen","x":27.1,"y":20.6},{"serie":"slaapkamer dolfijnen","x":25.7,"y":20.6},{"serie":"slaapkamer dolfijnen","x":25.0,"y":20.0},{"serie":"slaapkamer dolfijnen","x":24.8,"y":19.2},{"serie":"slaapkamer dolfijnen","x":25.2,"y":19.5},{"serie":"slaapkamer dolfijnen","x":23.8,"y":18.2},{"serie":"slaapkamer dolfijnen","x":24.3,"y":17.8},{"serie":"slaapkamer dolfijnen","x":24.8,"y":17.2},{"serie":"slaapkamer dolfijnen","x":24.5,"y":15.0},{"serie":"slaapkamer dolfijnen","x":24.9,"y":15.5},{"serie":"slaapkamer dolfijnen","x":25.6,"y":16.2},{"serie":"slaapkamer dolfijnen","x":26.3,"y":16.9},{"serie":"slaapkamer dolfijnen","x":26.5,"y":17.5},{"serie":"slaapkamer dolfijnen","x":26.7,"y":17.9},{"serie":"slaapkamer dolfijnen","x":27.1,"y":17.8},{"serie":"slaapkamer dolfijnen","x":27.4,"y":18.1},{"serie":"slaapkamer dolfijnen","x":25.9,"y":18.1},{"serie":"slaapkamer dolfijnen","x":26.6,"y":19.6},{"serie":"slaapkamer dolfijnen","x":23.2,"y":17.9},{"serie":"slaapkamer dolfijnen","x":23.0,"y":16.9},{"serie":"slaapkamer dolfijnen","x":22.4,"y":17.6},{"serie":"slaapkamer dolfijnen","x":22.9,"y":14.3},{"serie":"slaapkamer dolfijnen","x":23.0,"y":13.6},{"serie":"slaapkamer dolfijnen","x":21.4,"y":17.0},{"serie":"slaapkamer dolfijnen","x":21.0,"y":16.1},{"serie":"slaapkamer dolfijnen","x":21.6,"y":15.9},{"serie":"slaapkamer dolfijnen","x":20.8,"y":16.4},{"serie":"slaapkamer dolfijnen","x":21.3,"y":13.3},{"serie":"slaapkamer dolfijnen","x":21.2,"y":13.8},{"serie":"slaapkamer dolfijnen","x":20.1,"y":15.8},{"serie":"slaapkamer dolfijnen","x":19.9,"y":16.1},{"serie":"slaapkamer dolfijnen","x":19.7,"y":14.5},{"serie":"slaapkamer dolfijnen","x":20.2,"y":13.4},{"serie":"slaapkamer dolfijnen","x":19.4,"y":12.6},{"serie":"slaapkamer dolfijnen","x":20.4,"y":12.6},{"serie":"slaapkamer dolfijnen","x":19.6,"y":12.1},{"serie":"slaapkamer dolfijnen","x":18.8,"y":13.1},{"serie":"slaapkamer dolfijnen","x":18.7,"y":13.9},{"serie":"slaapkamer dolfijnen","x":18.4,"y":15.1},{"serie":"slaapkamer dolfijnen","x":17.2,"y":14.5},{"serie":"slaapkamer dolfijnen","x":16.8,"y":14.1},{"serie":"slaapkamer dolfijnen","x":16.8,"y":13.6},{"serie":"slaapkamer dolfijnen","x":17.6,"y":13.6},{"serie":"slaapkamer dolfijnen","x":18.2,"y":10.1},{"serie":"slaapkamer dolfijnen","x":17.9,"y":11.5},{"serie":"slaapkamer dolfijnen","x":17.2,"y":11.7},{"serie":"slaapkamer dolfijnen","x":17.7,"y":10.8},{"serie":"slaapkamer dolfijnen","x":16.9,"y":12.2},{"serie":"slaapkamer dolfijnen","x":15.9,"y":11.5},{"serie":"slaapkamer dolfijnen","x":15.7,"y":10.8},{"serie":"slaapkamer dolfijnen","x":15.4,"y":10.3},{"serie":"slaapkamer dolfijnen","x":14.9,"y":11.0},{"serie":"slaapkamer dolfijnen","x":14.7,"y":12.9},{"serie":"slaapkamer dolfijnen","x":13.8,"y":12.5},{"serie":"slaapkamer dolfijnen","x":13.3,"y":12.1},{"serie":"slaapkamer dolfijnen","x":12.5,"y":10.1},{"serie":"slaapkamer dolfijnen","x":11.9,"y":9.4},{"serie":"slaapkamer dolfijnen","x":12.5,"y":8.7},{"serie":"slaapkamer dolfijnen","x":13.2,"y":8.0},{"serie":"slaapkamer dolfijnen","x":13.8,"y":7.4},{"serie":"slaapkamer dolfijnen","x":14.1,"y":6.0},{"serie":"slaapkamer dolfijnen","x":15.7,"y":9.4},{"serie":"slaapkamer dolfijnen","x":16.3,"y":8.0},{"serie":"slaapkamer dolfijnen","x":15.0,"y":9.4},{"serie":"slaapkamer dolfijnen","x":14.4,"y":8.4},{"serie":"slaapkamer dolfijnen","x":11.3,"y":8.4},{"serie":"slaapkamer dolfijnen","x":10.7,"y":7.7},{"serie":"slaapkamer dolfijnen","x":10.0,"y":8.4},{"serie":"slaapkamer dolfijnen","x":10.0,"y":9.4},{"serie":"slaapkamer dolfijnen","x":9.4,"y":7.7},{"serie":"slaapkamer dolfijnen","x":9.1,"y":6.7},{"serie":"slaapkamer dolfijnen","x":8.8,"y":5.6},{"serie":"slaapkamer dolfijnen","x":9.4,"y":4.6},{"serie":"slaapkamer dolfijnen","x":8.8,"y":4.2},{"serie":"slaapkamer dolfijnen","x":10.0,"y":5.3},{"serie":"slaapkamer dolfijnen","x":11.3,"y":6.0},{"serie":"slaapkamer dolfijnen","x":11.9,"y":6.7},{"serie":"slaapkamer dolfijnen","x":12.5,"y":7.0},{"serie":"slaapkamer dolfijnen","x":10.7,"y":10.1},{"serie":"slaapkamer dolfijnen","x":8.8,"y":9.3},{"serie":"slaapkamer dolfijnen","x":8.5,"y":8.0},{"serie":"slaapkamer dolfijnen","x":7.5,"y":7.4},{"serie":"slaapkamer dolfijnen","x":7.8,"y":6.3},{"serie":"slaapkamer dolfijnen","x":6.9,"y":6.0},{"serie":"slaapkamer dolfijnen","x":6.9,"y":8.6},{"serie":"slaapkamer dolfijnen","x":6.3,"y":6.7},{"serie":"slaapkamer dolfijnen","x":5.6,"y":6.0},{"serie":"slaapkamer dolfijnen","x":5.3,"y":5.3},{"serie":"slaapkamer dolfijnen","x":4.5,"y":6.8},{"serie":"slaapkamer dolfijnen","x":3.3,"y":6.0},{"serie":"slaapkamer dolfijnen","x":3.8,"y":5.6},{"serie":"slaapkamer dolfijnen","x":2.8,"y":4.6},{"serie":"slaapkamer dolfijnen","x":2.2,"y":3.9},{"serie":"slaapkamer dolfijnen","x":1.6,"y":2.8},{"serie":"slaapkamer dolfijnen","x":1.3,"y":2.1},{"serie":"slaapkamer dolfijnen","x":0.9,"y":1.4},{"serie":"slaapkamer dolfijnen","x":1.9,"y":4.6},{"serie":"slaapkamer dolfijnen","x":5.3,"y":7.9},{"serie":"slaapkamer dolfijnen","x":7.0,"y":8.6},{"serie":"slaapkamer dolfijnen","x":12.0,"y":11.0},{"serie":"slaapkamer dolfijnen","x":13.0,"y":9.2},{"serie":"slaapkamer dolfijnen","x":11.0,"y":9.8},{"serie":"slaapkamer dolfijnen","x":14.5,"y":10.0},{"serie":"slaapkamer dolfijnen","x":16.0,"y":12.8},{"serie":"slaapkamer dolfijnen","x":22.0,"y":15.1},{"serie":"slaapkamer dolfijnen","x":18.0,"y":15.0},
  {"serie":"slaapkamer dolfijnen","x":4.0,"y":4.2},{"serie":"slaapkamer dolfijnen","x":4.8,"y":4.8},{"serie":"slaapkamer dolfijnen","x":5.5,"y":5.2},{"serie":"slaapkamer dolfijnen","x":6.2,"y":5.5},{"serie":"slaapkamer dolfijnen","x":6.6,"y":7.2},{"serie":"slaapkamer dolfijnen","x":7.2,"y":6.4},{"serie":"slaapkamer dolfijnen","x":7.6,"y":5.4},{"serie":"slaapkamer dolfijnen","x":8.0,"y":6.8},{"serie":"slaapkamer dolfijnen","x":8.4,"y":7.6},{"serie":"slaapkamer dolfijnen","x":8.2,"y":5.2},{"serie":"slaapkamer dolfijnen","x":9.0,"y":7.4},{"serie":"slaapkamer dolfijnen","x":9.6,"y":8.2},{"serie":"slaapkamer dolfijnen","x":9.8,"y":6.2},{"serie":"slaapkamer dolfijnen","x":10.4,"y":6.8},{"serie":"slaapkamer dolfijnen","x":10.6,"y":9.0},{"serie":"slaapkamer dolfijnen","x":11.0,"y":7.2},{"serie":"slaapkamer dolfijnen","x":11.6,"y":8.0},{"serie":"slaapkamer dolfijnen","x":11.8,"y":10.2},{"serie":"slaapkamer dolfijnen","x":12.2,"y":9.6},{"serie":"slaapkamer dolfijnen","x":12.8,"y":10.6},{"serie":"slaapkamer dolfijnen","x":13.4,"y":9.8},{"serie":"slaapkamer dolfijnen","x":13.6,"y":11.2},{"serie":"slaapkamer dolfijnen","x":14.2,"y":11.6},{"serie":"slaapkamer dolfijnen","x":14.8,"y":10.4},{"serie":"slaapkamer dolfijnen","x":15.2,"y":12.0},{"serie":"slaapkamer dolfijnen","x":15.6,"y":12.5},{"serie":"slaapkamer dolfijnen","x":16.4,"y":10.6},{"serie":"slaapkamer dolfijnen","x":16.6,"y":11.3},{"serie":"slaapkamer dolfijnen","x":17.3,"y":12.6},{"serie":"slaapkamer dolfijnen","x":12.0,"y":7.6},{"serie":"slaapkamer dolfijnen","x":11.2,"y":5.4},{"serie":"slaapkamer dolfijnen","x":10.2,"y":4.8},{"serie":"slaapkamer dolfijnen","x":9.2,"y":4.0},{"serie":"slaapkamer dolfijnen","x":6.8,"y":4.6},{"serie":"slaapkamer dolfijnen","x":5.8,"y":4.0},{"serie":"slaapkamer dolfijnen","x":4.3,"y":3.6},{"serie":"slaapkamer dolfijnen","x":3.6,"y":3.0},{"serie":"slaapkamer dolfijnen","x":2.6,"y":2.4},{"serie":"slaapkamer dolfijnen","x":2.0,"y":1.8},{"serie":"slaapkamer dolfijnen","x":1.2,"y":1.0},{"serie":"slaapkamer dolfijnen","x":3.2,"y":3.8},{"serie":"slaapkamer dolfijnen","x":13.0,"y":13.0},{"serie":"slaapkamer dolfijnen","x":14.0,"y":13.2},{"serie":"slaapkamer dolfijnen","x":9.0,"y":9.0},{"serie":"slaapkamer dolfijnen","x":8.0,"y":8.4},{"serie":"slaapkamer dolfijnen","x":5.0,"y":6.0},
  {"serie":"slaapkamer dolfijnen","x":3.0,"y":2.6},{"serie":"slaapkamer dolfijnen","x":3.9,"y":3.5},{"serie":"slaapkamer dolfijnen","x":4.5,"y":5.6},{"serie":"slaapkamer dolfijnen","x":5.2,"y":4.4},{"serie":"slaapkamer dolfijnen","x":5.9,"y":6.3},{"serie":"slaapkamer dolfijnen","x":6.4,"y":4.9},{"serie":"slaapkamer dolfijnen","x":7.0,"y":7.0},{"serie":"slaapkamer dolfijnen","x":7.4,"y":7.9},{"serie":"slaapkamer dolfijnen","x":7.8,"y":4.8},{"serie":"slaapkamer dolfijnen","x":8.6,"y":6.0},{"serie":"slaapkamer dolfijnen","x":9.3,"y":8.6},{"serie":"slaapkamer dolfijnen","x":9.9,"y":7.1},{"serie":"slaapkamer dolfijnen","x":10.2,"y":9.6},{"serie":"slaapkamer dolfijnen","x":10.8,"y":8.4},{"serie":"slaapkamer dolfijnen","x":11.4,"y":9.3},{"serie":"slaapkamer dolfijnen","x":11.6,"y":6.5},{"serie":"slaapkamer dolfijnen","x":12.4,"y":8.2},{"serie":"slaapkamer dolfijnen","x":12.9,"y":9.4},{"serie":"slaapkamer dolfijnen","x":13.5,"y":8.8},{"serie":"slaapkamer dolfijnen","x":13.9,"y":10.4},{"serie":"slaapkamer dolfijnen","x":14.6,"y":9.3},{"serie":"slaapkamer dolfijnen","x":15.0,"y":11.5},{"serie":"slaapkamer dolfijnen","x":15.3,"y":8.6},{"serie":"slaapkamer dolfijnen","x":16.0,"y":10.0},{"serie":"slaapkamer dolfijnen","x":16.2,"y":11.9},{"serie":"slaapkamer dolfijnen","x":16.9,"y":9.8},{"serie":"slaapkamer dolfijnen","x":17.5,"y":11.2},{"serie":"slaapkamer dolfijnen","x":18.5,"y":11.8},{"serie":"slaapkamer dolfijnen","x":19.0,"y":14.5},{"serie":"slaapkamer dolfijnen","x":19.8,"y":13.2},{"serie":"slaapkamer dolfijnen","x":20.6,"y":14.6},{"serie":"slaapkamer dolfijnen","x":21.8,"y":14.7},{"serie":"slaapkamer dolfijnen","x":22.3,"y":16.3},{"serie":"slaapkamer dolfijnen","x":23.6,"y":16.0},{"serie":"slaapkamer dolfijnen","x":24.2,"y":16.6},{"serie":"slaapkamer dolfijnen","x":1.5,"y":1.5},{"serie":"slaapkamer dolfijnen","x":2.4,"y":3.2},{"serie":"slaapkamer dolfijnen","x":0.6,"y":0.6},

  {"serie":"slaapkamer schapen","x":2.3,"y":9.3},{"serie":"slaapkamer schapen","x":2.0,"y":6.9},{"serie":"slaapkamer schapen","x":25.0,"y":11.4},{"serie":"slaapkamer schapen","x":25.7,"y":11.0},{"serie":"slaapkamer schapen","x":25.2,"y":10.4},{"serie":"slaapkamer schapen","x":23.9,"y":9.2},{"serie":"slaapkamer schapen","x":24.5,"y":9.9},{"serie":"slaapkamer schapen","x":22.9,"y":8.6},{"serie":"slaapkamer schapen","x":23.2,"y":7.0},{"serie":"slaapkamer schapen","x":23.4,"y":7.4},{"serie":"slaapkamer schapen","x":24.1,"y":8.0},{"serie":"slaapkamer schapen","x":23.9,"y":7.7},{"serie":"slaapkamer schapen","x":28.8,"y":8.6},{"serie":"slaapkamer schapen","x":29.0,"y":8.9},{"serie":"slaapkamer schapen","x":29.8,"y":9.1},{"serie":"slaapkamer schapen","x":30.4,"y":9.2},{"serie":"slaapkamer schapen","x":31.2,"y":9.3},{"serie":"slaapkamer schapen","x":31.8,"y":9.4},{"serie":"slaapkamer schapen","x":33.1,"y":9.5},{"serie":"slaapkamer schapen","x":33.7,"y":9.6},{"serie":"slaapkamer schapen","x":34.5,"y":9.6},{"serie":"slaapkamer schapen","x":35.4,"y":9.5},{"serie":"slaapkamer schapen","x":36.2,"y":9.2},{"serie":"slaapkamer schapen","x":37.2,"y":9.0},{"serie":"slaapkamer schapen","x":37.9,"y":8.7},{"serie":"slaapkamer schapen","x":37.9,"y":8.0},{"serie":"slaapkamer schapen","x":37.3,"y":6.7},{"serie":"slaapkamer schapen","x":38.4,"y":7.5},{"serie":"slaapkamer schapen","x":35.3,"y":6.1},{"serie":"slaapkamer schapen","x":31.8,"y":5.4},{"serie":"slaapkamer schapen","x":30.2,"y":7.0},{"serie":"slaapkamer schapen","x":29.5,"y":7.4},{"serie":"slaapkamer schapen","x":28.7,"y":7.5},{"serie":"slaapkamer schapen","x":28.5,"y":6.1},{"serie":"slaapkamer schapen","x":28.2,"y":5.3},{"serie":"slaapkamer schapen","x":27.9,"y":6.0},{"serie":"slaapkamer schapen","x":27.0,"y":6.7},{"serie":"slaapkamer schapen","x":27.3,"y":5.6},{"serie":"slaapkamer schapen","x":26.5,"y":5.6},{"serie":"slaapkamer schapen","x":26.0,"y":6.0},{"serie":"slaapkamer schapen","x":25.7,"y":5.3},{"serie":"slaapkamer schapen","x":25.1,"y":4.7},{"serie":"slaapkamer schapen","x":24.5,"y":4.6},{"serie":"slaapkamer schapen","x":23.8,"y":6.3},{"serie":"slaapkamer schapen","x":22.9,"y":4.6},{"serie":"slaapkamer schapen","x":22.3,"y":6.3},{"serie":"slaapkamer schapen","x":21.3,"y":6.7},{"serie":"slaapkamer schapen","x":21.0,"y":4.9},{"serie":"slaapkamer schapen","x":20.7,"y":6.3},{"serie":"slaapkamer schapen","x":20.1,"y":6.3},{"serie":"slaapkamer schapen","x":19.7,"y":6.7},{"serie":"slaapkamer schapen","x":19.6,"y":6.0},{"serie":"slaapkamer schapen","x":18.8,"y":6.0},{"serie":"slaapkamer schapen","x":18.2,"y":7.4},{"serie":"slaapkamer schapen","x":18.0,"y":6.0},{"serie":"slaapkamer schapen","x":17.6,"y":5.3},{"serie":"slaapkamer schapen","x":16.9,"y":7.0},{"serie":"slaapkamer schapen","x":16.6,"y":8.0},{"serie":"slaapkamer schapen","x":16.9,"y":5.3},{"serie":"slaapkamer schapen","x":15.8,"y":7.4},{"serie":"slaapkamer schapen","x":15.4,"y":6.3},{"serie":"slaapkamer schapen","x":15.0,"y":5.3},{"serie":"slaapkamer schapen","x":14.3,"y":1.4},{"serie":"slaapkamer schapen","x":15.7,"y":4.2},{"serie":"slaapkamer schapen","x":13.8,"y":4.6},{"serie":"slaapkamer schapen","x":13.2,"y":6.0},{"serie":"slaapkamer schapen","x":12.5,"y":5.6},{"serie":"slaapkamer schapen","x":11.9,"y":4.9},{"serie":"slaapkamer schapen","x":11.3,"y":4.6},{"serie":"slaapkamer schapen","x":10.0,"y":4.2},{"serie":"slaapkamer schapen","x":9.4,"y":3.9},{"serie":"slaapkamer schapen","x":8.5,"y":3.5},{"serie":"slaapkamer schapen","x":7.5,"y":3.9},{"serie":"slaapkamer schapen","x":6.9,"y":4.2},{"serie":"slaapkamer schapen","x":7.2,"y":5.3},{"serie":"slaapkamer schapen","x":6.3,"y":6.0},{"serie":"slaapkamer schapen","x":5.6,"y":7.0},{"serie":"slaapkamer schapen","x":6.0,"y":5.3},{"serie":"slaapkamer schapen","x":5.0,"y":4.6},{"serie":"slaapkamer schapen","x":4.7,"y":3.9},{"serie":"slaapkamer schapen","x":3.8,"y":4.2},{"serie":"slaapkamer schapen","x":3.1,"y":4.9},{"serie":"slaapkamer schapen","x":2.5,"y":4.6},{"serie":"slaapkamer schapen","x":1.9,"y":3.5},{"serie":"slaapkamer schapen","x":1.3,"y":2.8},{"serie":"slaapkamer schapen","x":0.9,"y":2.1},{"serie":"slaapkamer schapen","x":0.6,"y":1.4},{"serie":"slaapkamer schapen","x":1.3,"y":0.7},{"serie":"slaapkamer schapen","x":2.5,"y":1.1},{"serie":"slaapkamer schapen","x":3.8,"y":1.4},{"serie":"slaapkamer schapen","x":5.0,"y":1.1},{"serie":"slaapkamer schapen","x":6.3,"y":1.4},{"serie":"slaapkamer schapen","x":7.5,"y":1.8},{"serie":"slaapkamer schapen","x":8.8,"y":1.8},{"serie":"slaapkamer schapen","x":10.0,"y":2.1},{"serie":"slaapkamer schapen","x":11.3,"y":2.5},{"serie":"slaapkamer schapen","x":12.5,"y":2.8},{"serie":"slaapkamer schapen","x":13.8,"y":3.2},{"serie":"slaapkamer schapen","x":15.0,"y":3.5},{"serie":"slaapkamer schapen","x":16.3,"y":3.9},{"serie":"slaapkamer schapen","x":17.6,"y":3.9},{"serie":"slaapkamer schapen","x":18.0,"y":2.3},{"serie":"slaapkamer schapen","x":16.3,"y":3.2},{"serie":"slaapkamer schapen","x":18.8,"y":4.2},{"serie":"slaapkamer schapen","x":20.4,"y":4.6},{"serie":"slaapkamer schapen","x":21.9,"y":5.3},{"serie":"slaapkamer schapen","x":7.8,"y":2.8},{"serie":"slaapkamer schapen","x":5.6,"y":2.8},{"serie":"slaapkamer schapen","x":9.4,"y":2.8},{"serie":"slaapkamer schapen","x":10.9,"y":3.5},{"serie":"slaapkamer schapen","x":12.5,"y":3.9},{"serie":"slaapkamer schapen","x":14.1,"y":4.2},{"serie":"slaapkamer schapen","x":7.8,"y":6.0},{"serie":"slaapkamer schapen","x":8.2,"y":4.9},{"serie":"slaapkamer schapen","x":8.8,"y":6.3},{"serie":"slaapkamer schapen","x":12.2,"y":6.3},{"serie":"slaapkamer schapen","x":4.1,"y":5.6},{"serie":"slaapkamer schapen","x":3.1,"y":6.7},{"serie":"slaapkamer schapen","x":1.6,"y":5.3},{"serie":"slaapkamer schapen","x":2.2,"y":4.6},{"serie":"slaapkamer schapen","x":3.1,"y":3.2},{"serie":"slaapkamer schapen","x":5.0,"y":7.0},{"serie":"slaapkamer schapen","x":4.4,"y":2.4},{"serie":"slaapkamer schapen","x":6.8,"y":2.6},{"serie":"slaapkamer schapen","x":9.0,"y":3.1},{"serie":"slaapkamer schapen","x":11.6,"y":3.3},{"serie":"slaapkamer schapen","x":14.6,"y":2.9},{"serie":"slaapkamer schapen","x":19.5,"y":5.0},{"serie":"slaapkamer schapen","x":21.5,"y":4.1},{"serie":"slaapkamer schapen","x":23.5,"y":5.2},{"serie":"slaapkamer schapen","x":26.8,"y":5.0},
  {"serie":"slaapkamer schapen","x":1.8,"y":1.8},{"serie":"slaapkamer schapen","x":2.8,"y":2.2},{"serie":"slaapkamer schapen","x":3.5,"y":2.6},{"serie":"slaapkamer schapen","x":4.2,"y":3.2},{"serie":"slaapkamer schapen","x":5.2,"y":2.2},{"serie":"slaapkamer schapen","x":5.8,"y":3.4},{"serie":"slaapkamer schapen","x":6.5,"y":2.4},{"serie":"slaapkamer schapen","x":7.0,"y":3.0},{"serie":"slaapkamer schapen","x":8.0,"y":2.3},{"serie":"slaapkamer schapen","x":8.6,"y":2.9},{"serie":"slaapkamer schapen","x":9.8,"y":3.0},{"serie":"slaapkamer schapen","x":10.5,"y":2.7},{"serie":"slaapkamer schapen","x":11.0,"y":3.8},{"serie":"slaapkamer schapen","x":11.8,"y":3.1},{"serie":"slaapkamer schapen","x":12.8,"y":3.4},{"serie":"slaapkamer schapen","x":13.5,"y":2.6},{"serie":"slaapkamer schapen","x":14.4,"y":3.6},{"serie":"slaapkamer schapen","x":15.3,"y":2.8},{"serie":"slaapkamer schapen","x":16.0,"y":4.6},{"serie":"slaapkamer schapen","x":16.8,"y":3.5},{"serie":"slaapkamer schapen","x":17.2,"y":4.5},{"serie":"slaapkamer schapen","x":18.4,"y":3.2},{"serie":"slaapkamer schapen","x":19.2,"y":3.7},{"serie":"slaapkamer schapen","x":20.0,"y":4.2},{"serie":"slaapkamer schapen","x":21.0,"y":3.9},{"serie":"slaapkamer schapen","x":22.2,"y":4.3},{"serie":"slaapkamer schapen","x":23.0,"y":3.8},{"serie":"slaapkamer schapen","x":24.0,"y":4.8},{"serie":"slaapkamer schapen","x":25.5,"y":4.4},{"serie":"slaapkamer schapen","x":27.0,"y":4.7},{"serie":"slaapkamer schapen","x":28.0,"y":5.8},{"serie":"slaapkamer schapen","x":3.0,"y":5.8},{"serie":"slaapkamer schapen","x":4.0,"y":7.0},{"serie":"slaapkamer schapen","x":5.4,"y":6.3},{"serie":"slaapkamer schapen","x":6.6,"y":5.0},{"serie":"slaapkamer schapen","x":7.8,"y":5.0},{"serie":"slaapkamer schapen","x":9.0,"y":5.6},{"serie":"slaapkamer schapen","x":10.2,"y":5.6},{"serie":"slaapkamer schapen","x":11.0,"y":6.3},{"serie":"slaapkamer schapen","x":13.6,"y":5.2},{"serie":"slaapkamer schapen","x":14.5,"y":5.8},{"serie":"slaapkamer schapen","x":15.8,"y":6.0},{"serie":"slaapkamer schapen","x":17.8,"y":7.6},{"serie":"slaapkamer schapen","x":0.3,"y":0.5},{"serie":"slaapkamer schapen","x":1.6,"y":1.2},{"serie":"slaapkamer schapen","x":2.2,"y":3.0},{"serie":"slaapkamer schapen","x":3.4,"y":1.8},{"serie":"slaapkamer schapen","x":4.6,"y":1.6},{"serie":"slaapkamer schapen","x":6.0,"y":1.7},{"serie":"slaapkamer schapen","x":7.0,"y":1.6},{"serie":"slaapkamer schapen","x":8.2,"y":1.5},{"serie":"slaapkamer schapen","x":9.5,"y":2.0},{"serie":"slaapkamer schapen","x":10.8,"y":1.9},{"serie":"slaapkamer schapen","x":12.0,"y":2.2},
  {"serie":"slaapkamer schapen","x":1.2,"y":1.6},{"serie":"slaapkamer schapen","x":2.0,"y":2.6},{"serie":"slaapkamer schapen","x":2.6,"y":3.6},{"serie":"slaapkamer schapen","x":3.3,"y":4.6},{"serie":"slaapkamer schapen","x":3.9,"y":2.0},{"serie":"slaapkamer schapen","x":4.5,"y":4.6},{"serie":"slaapkamer schapen","x":5.0,"y":3.0},{"serie":"slaapkamer schapen","x":5.6,"y":2.0},{"serie":"slaapkamer schapen","x":6.2,"y":3.4},{"serie":"slaapkamer schapen","x":6.8,"y":3.6},{"serie":"slaapkamer schapen","x":7.4,"y":2.6},{"serie":"slaapkamer schapen","x":7.9,"y":3.4},{"serie":"slaapkamer schapen","x":8.4,"y":2.1},{"serie":"slaapkamer schapen","x":9.1,"y":2.5},{"serie":"slaapkamer schapen","x":9.7,"y":3.4},{"serie":"slaapkamer schapen","x":10.3,"y":3.2},{"serie":"slaapkamer schapen","x":10.9,"y":2.4},{"serie":"slaapkamer schapen","x":11.5,"y":3.4},{"serie":"slaapkamer schapen","x":12.2,"y":3.0},{"serie":"slaapkamer schapen","x":12.8,"y":2.5},{"serie":"slaapkamer schapen","x":13.3,"y":3.8},{"serie":"slaapkamer schapen","x":14.0,"y":2.9},{"serie":"slaapkamer schapen","x":14.8,"y":3.2},{"serie":"slaapkamer schapen","x":15.6,"y":3.6},{"serie":"slaapkamer schapen","x":16.2,"y":3.0},{"serie":"slaapkamer schapen","x":17.0,"y":4.0},{"serie":"slaapkamer schapen","x":17.8,"y":3.4},{"serie":"slaapkamer schapen","x":18.6,"y":4.5},{"serie":"slaapkamer schapen","x":19.4,"y":4.4},{"serie":"slaapkamer schapen","x":20.2,"y":3.8},{"serie":"slaapkamer schapen","x":20.9,"y":5.0},{"serie":"slaapkamer schapen","x":21.7,"y":4.6},{"serie":"slaapkamer schapen","x":22.6,"y":5.0},{"serie":"slaapkamer schapen","x":23.3,"y":4.2},{"serie":"slaapkamer schapen","x":24.6,"y":5.4},{"serie":"slaapkamer schapen","x":25.8,"y":4.8},{"serie":"slaapkamer schapen","x":26.4,"y":5.2},{"serie":"slaapkamer schapen","x":27.5,"y":5.2},{"serie":"slaapkamer schapen","x":28.6,"y":5.6},{"serie":"slaapkamer schapen","x":29.2,"y":6.6},{"serie":"slaapkamer schapen","x":30.6,"y":6.8},{"serie":"slaapkamer schapen","x":32.6,"y":7.2},{"serie":"slaapkamer schapen","x":34.0,"y":7.4},{"serie":"slaapkamer schapen","x":4.6,"y":5.2},{"serie":"slaapkamer schapen","x":6.0,"y":6.2},{"serie":"slaapkamer schapen","x":7.2,"y":4.6},{"serie":"slaapkamer schapen","x":9.5,"y":4.6},{"serie":"slaapkamer schapen","x":12.9,"y":4.8},{"serie":"slaapkamer schapen","x":14.2,"y":5.0},{"serie":"slaapkamer schapen","x":16.5,"y":5.8},{"serie":"slaapkamer schapen","x":18.4,"y":6.6},{"serie":"slaapkamer schapen","x":20.6,"y":5.6}
 ]
},
"hconcat": [
 {
  "width": 450, "height": 383,
  "layer": [
   {
    "data": {"name": "links"},
    "mark": {"type": "point", "filled": true, "opacity": 1, "size": 70},
    "encoding": {
     "x": {"field": "x", "type": "quantitative", "scale": {"domain": [0, 60], "nice": false}, "axis": {"values": [0, 20, 40, 60], "title": "concentratie op dak (µg/m³)", "titleX": 326, "titleY": 50, "titleAlign": "center", "titleBaseline": "middle"}},
     "y": {"field": "y", "type": "quantitative", "scale": {"domain": [0, 60], "nice": false}, "axis": {"values": [0, 20, 40, 60], "title": "concentratie binnen (µg/m³)", "titleX": -61, "titleY": 156, "titleAlign": "center", "titleBaseline": "middle", "titleAngle": -90}},
     "color": {"field": "serie", "type": "nominal", "scale": {"domain": ["slaapkamer dolfijnen", "slaapkamer schapen"], "range": ["#4F81BD", "#9BBB59"]}, "legend": {"title": null, "orient": "none", "legendX": 43, "legendY": 19, "rowPadding": 6, "labelOffset": 6}},
     "shape": {"field": "serie", "type": "nominal", "scale": {"domain": ["slaapkamer dolfijnen", "slaapkamer schapen"], "range": ["diamond", "triangle-up"]}, "legend": {"title": null, "orient": "none", "legendX": 43, "legendY": 19, "rowPadding": 6, "labelOffset": 6}}
    }
   },
   {
    "data": {"values": [{"lijn": "a", "x": 0, "y": 1.214}, {"lijn": "a", "x": 55, "y": 40.649}, {"lijn": "b", "x": 0, "y": 1.883}, {"lijn": "b", "x": 55, "y": 14.533}]},
    "mark": {"type": "line", "color": "black", "strokeWidth": 1.3},
    "encoding": {"x": {"field": "x", "type": "quantitative"}, "y": {"field": "y", "type": "quantitative"}, "detail": {"field": "lijn"}}
   },
   {
    "data": {"values": [{"x": 0, "y": 0}, {"x": 60, "y": 60}]},
    "mark": {"type": "line", "color": "black", "strokeWidth": 1.6, "strokeDash": [6, 3.5]},
    "encoding": {"x": {"field": "x", "type": "quantitative"}, "y": {"field": "y", "type": "quantitative"}}
   },
   {
    "data": {"values": [{"x": 45.6, "y": 27.1, "t": "y = 0.717x + 1.214"}, {"x": 45.6, "y": 3.76, "t": "y = 0.230x + 1.883"}]},
    "mark": {"type": "text", "align": "left", "baseline": "middle", "fontSize": 15.5, "color": "black"},
    "encoding": {"x": {"field": "x", "type": "quantitative"}, "y": {"field": "y", "type": "quantitative"}, "text": {"field": "t"}}
   },
   {
    "data": {"values": [{"x": 41.7, "y": 56.9, "t": "PM2,5 - PM1"}]},
    "mark": {"type": "text", "align": "center", "baseline": "middle", "fontSize": 19, "color": "black"},
    "encoding": {"x": {"field": "x", "type": "quantitative"}, "y": {"field": "y", "type": "quantitative"}, "text": {"field": "t"}}
   }
  ]
 },
 {
  "width": 450, "height": 390,
  "layer": [
   {
    "data": {"name": "rechts"},
    "mark": {"type": "point", "filled": true, "opacity": 1, "size": 70},
    "encoding": {
     "x": {"field": "x", "type": "quantitative", "scale": {"domain": [0, 40], "nice": false}, "axis": {"values": [0, 10, 20, 30, 40], "title": "concentratie op dak (µg/m³)", "titleX": 326, "titleY": 47, "titleAlign": "center", "titleBaseline": "middle"}},
     "y": {"field": "y", "type": "quantitative", "scale": {"domain": [0, 40], "nice": false, "range": [390, 7]}, "axis": {"values": [0, 10, 20, 30, 40], "title": "concentratie binnen (µg/m³)", "titleX": -60, "titleY": 162, "titleAlign": "center", "titleBaseline": "middle", "titleAngle": -90}},
     "color": {"field": "serie", "type": "nominal", "scale": {"domain": ["slaapkamer dolfijnen", "slaapkamer schapen"], "range": ["#4F81BD", "#9BBB59"]}, "legend": {"title": null, "orient": "none", "legendX": 42, "legendY": 27, "rowPadding": 8, "labelOffset": 6}},
     "shape": {"field": "serie", "type": "nominal", "scale": {"domain": ["slaapkamer dolfijnen", "slaapkamer schapen"], "range": ["diamond", "triangle-up"]}, "legend": {"title": null, "orient": "none", "legendX": 42, "legendY": 27, "rowPadding": 8, "labelOffset": 6}}
    }
   },
   {
    "data": {"values": [{"lijn": "a", "x": 0, "y": 0.104}, {"lijn": "a", "x": 40, "y": 27.304}, {"lijn": "b", "x": 0, "y": 0.474}, {"lijn": "b", "x": 40, "y": 9.794}]},
    "mark": {"type": "line", "color": "black", "strokeWidth": 1.3},
    "encoding": {"x": {"field": "x", "type": "quantitative"}, "y": {"field": "y", "type": "quantitative"}, "detail": {"field": "lijn"}}
   },
   {
    "data": {"values": [{"x": 0, "y": 0}, {"x": 40, "y": 40}]},
    "mark": {"type": "line", "color": "black", "strokeWidth": 1.6, "strokeDash": [6, 3.5]},
    "encoding": {"x": {"field": "x", "type": "quantitative"}, "y": {"field": "y", "type": "quantitative"}}
   },
   {
    "data": {"values": [{"x": 30.2, "y": 16.4, "t": "y = 0.680x + 0.104"}, {"x": 30.2, "y": 3.55, "t": "y = 0.233x + 0.474"}]},
    "mark": {"type": "text", "align": "left", "baseline": "middle", "fontSize": 15.5, "color": "black"},
    "encoding": {"x": {"field": "x", "type": "quantitative"}, "y": {"field": "y", "type": "quantitative"}, "text": {"field": "t"}}
   },
   {
    "data": {"values": [{"x": 25.0, "y": 37.9, "t": "PM1"}]},
    "mark": {"type": "text", "align": "center", "baseline": "middle", "fontSize": 19, "color": "black"},
    "encoding": {"x": {"field": "x", "type": "quantitative"}, "y": {"field": "y", "type": "quantitative"}, "text": {"field": "t"}}
   }
  ]
 }
]
}
